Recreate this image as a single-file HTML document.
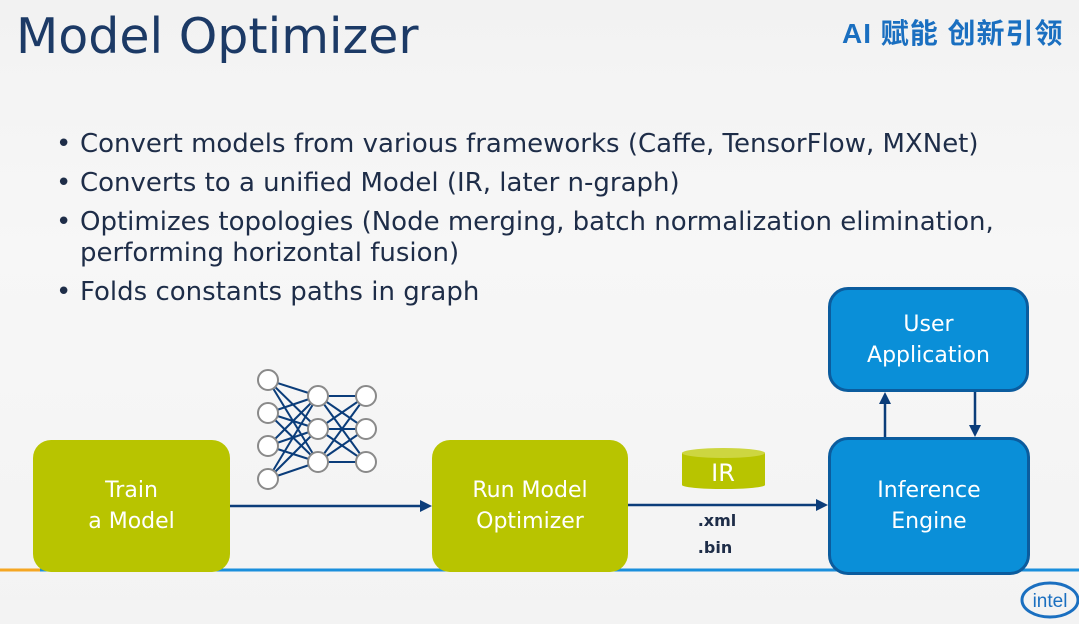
<!DOCTYPE html>
<html><head><meta charset="utf-8"><style>
body{margin:0;width:1079px;height:624px;overflow:hidden;background:linear-gradient(180deg,#f2f2f2 0%,#f7f7f7 40%,#f3f3f3 100%);font-family:"DejaVu Sans","Noto Sans CJK SC",sans-serif;position:relative}
.t{position:absolute;left:16px;top:8px;font-size:49px;color:#1c3a66}
.logo{position:absolute;left:842px;top:12px;font-size:28px;font-weight:bold;color:#1a6fc0;font-family:"Liberation Sans","Noto Sans CJK SC",sans-serif;letter-spacing:1px}
ul{position:absolute;left:56px;top:129px;margin:0;padding:0;list-style:none;font-size:26px;color:#1e2d48;line-height:31px}
li{padding-left:24px;position:relative;margin-bottom:8px}
li:before{content:"•";position:absolute;left:0}
.box{position:absolute;display:flex;align-items:center;justify-content:center;text-align:center;color:#fff;font-size:22px;line-height:31px;box-sizing:border-box}
.g{background:#b8c400;border-radius:18px}
.b{background:#0a8fd8;border:3px solid #0b5c9e;border-radius:20px}
</style></head><body>
<div class="t">Model Optimizer</div>
<div class="logo">AI 赋能 创新引领</div>
<ul>
<li>Convert models from various frameworks (Caffe, TensorFlow, MXNet)</li>
<li>Converts to a unified Model (IR, later n-graph)</li>
<li>Optimizes topologies (Node merging, batch normalization elimination,<br>performing horizontal fusion)</li>
<li>Folds constants paths in graph</li>
</ul>
<svg width="1079" height="624" style="position:absolute;left:0;top:0">
<line x1="0" y1="570" x2="40" y2="570" stroke="#f5a623" stroke-width="3"/>
<line x1="40" y1="570" x2="1079" y2="570" stroke="#1a8fdc" stroke-width="3"/>
<g stroke="#0b3d7a" stroke-width="2.5">
<line x1="230" y1="506" x2="424" y2="506"/>
<line x1="628" y1="505" x2="820" y2="505"/>
<line x1="885" y1="437" x2="885" y2="400"/>
<line x1="975" y1="392" x2="975" y2="428"/>
</g>
<g fill="#0b3d7a">
<polygon points="432,506 420,500 420,512"/>
<polygon points="828,505 816,499 816,511"/>
<polygon points="885,392 879,404 891,404"/>
<polygon points="975,437 969,425 981,425"/>
</g>
<g stroke="#0b3d7a" stroke-width="2">
<line x1="268" y1="380" x2="318" y2="396"/><line x1="268" y1="380" x2="318" y2="429"/><line x1="268" y1="380" x2="318" y2="462"/>
<line x1="268" y1="413" x2="318" y2="396"/><line x1="268" y1="413" x2="318" y2="429"/><line x1="268" y1="413" x2="318" y2="462"/>
<line x1="268" y1="446" x2="318" y2="396"/><line x1="268" y1="446" x2="318" y2="429"/><line x1="268" y1="446" x2="318" y2="462"/>
<line x1="268" y1="479" x2="318" y2="396"/><line x1="268" y1="479" x2="318" y2="429"/><line x1="268" y1="479" x2="318" y2="462"/>
<line x1="318" y1="396" x2="366" y2="396"/><line x1="318" y1="396" x2="366" y2="429"/><line x1="318" y1="396" x2="366" y2="462"/>
<line x1="318" y1="429" x2="366" y2="396"/><line x1="318" y1="429" x2="366" y2="429"/><line x1="318" y1="429" x2="366" y2="462"/>
<line x1="318" y1="462" x2="366" y2="396"/><line x1="318" y1="462" x2="366" y2="429"/><line x1="318" y1="462" x2="366" y2="462"/>
</g>
<g fill="#fff" stroke="#8a8a8a" stroke-width="2">
<circle cx="268" cy="380" r="10"/><circle cx="268" cy="413" r="10"/><circle cx="268" cy="446" r="10"/><circle cx="268" cy="479" r="10"/>
<circle cx="318" cy="396" r="10"/><circle cx="318" cy="429" r="10"/><circle cx="318" cy="462" r="10"/>
<circle cx="366" cy="396" r="10"/><circle cx="366" cy="429" r="10"/><circle cx="366" cy="462" r="10"/>
</g>
<rect x="682" y="453" width="83" height="32" fill="#b8c400"/>
<ellipse cx="723.5" cy="485" rx="41.5" ry="4" fill="#b8c400"/>
<ellipse cx="723.5" cy="453" rx="41.5" ry="5" fill="#cdd640"/>
<text x="723" y="481" text-anchor="middle" fill="#fff" font-size="24" font-family="DejaVu Sans">IR</text>
<text x="717" y="526" text-anchor="middle" fill="#1e2d48" font-size="16" font-weight="bold" font-family="DejaVu Sans">.xml</text>
<text x="715" y="553" text-anchor="middle" fill="#1e2d48" font-size="16" font-weight="bold" font-family="DejaVu Sans">.bin</text>
<ellipse cx="1050" cy="600" rx="28" ry="17" fill="none" stroke="#1a6fc0" stroke-width="3"/>
<text x="1050" y="607" text-anchor="middle" fill="#1a6fc0" font-size="19" font-family="Liberation Sans">intel</text>
</svg>
<div class="box g" style="left:33px;top:440px;width:197px;height:132px">Train<br>a Model</div>
<div class="box g" style="left:432px;top:440px;width:196px;height:132px">Run Model<br>Optimizer</div>
<div class="box b" style="left:828px;top:437px;width:202px;height:138px">Inference<br>Engine</div>
<div class="box b" style="left:828px;top:287px;width:201px;height:105px">User<br>Application</div>
</body></html>
